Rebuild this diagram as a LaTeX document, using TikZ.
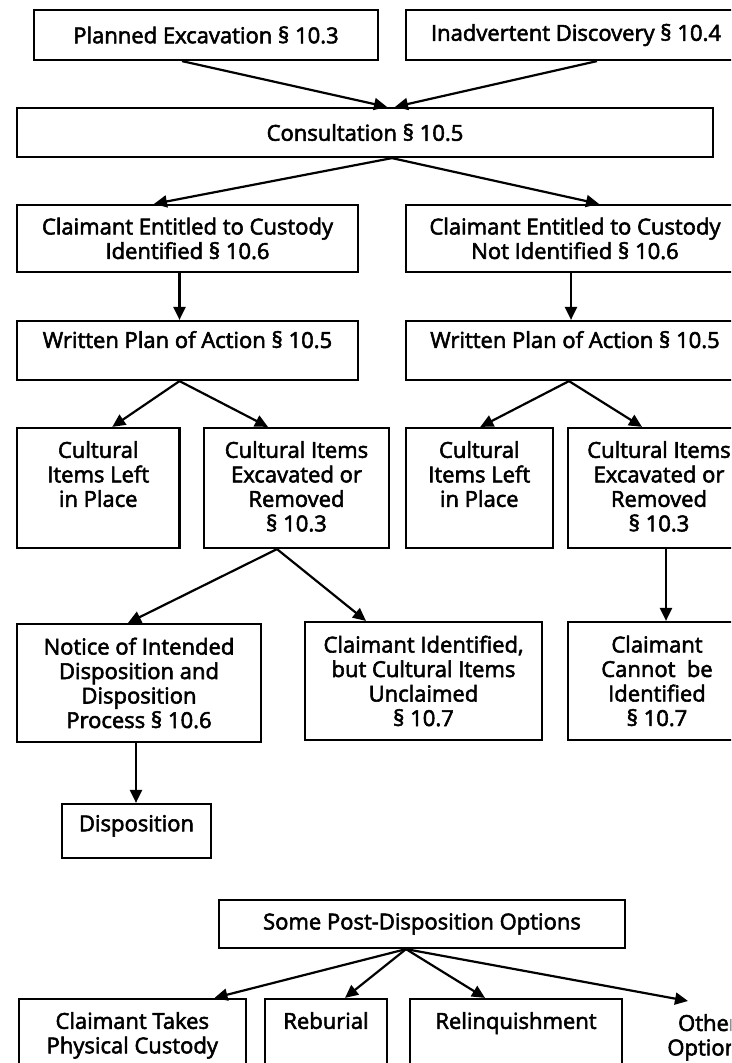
\documentclass[tikz,border=0pt]{standalone}
\usepackage{fontspec}
\setmainfont{Open Sans}
\usetikzlibrary{arrows.meta}
\newcommand\fsz{\fontsize{22}{24.5}\selectfont\special{pdf:literal direct 2 Tr 0.55 w}}
\tikzset{
  box/.style={draw, line width=2.2pt, inner sep=0pt, align=center, font=\fsz},
  lbl/.style={inner sep=0pt, align=center, font=\fsz, anchor=north},
  arr/.style={line width=2.2pt, -{Triangle[length=13pt,width=12pt]}},
}
\begin{document}
\begin{tikzpicture}[x=1pt,y=-1pt]
\useasboundingbox (0,0) rectangle (731,1063);
\clip (0,0) rectangle (731,1063);
% top row
\node[box, minimum width=344pt, minimum height=50pt] (pe) at (206,35) {Planned Excavation § 10.3};
\node[box, minimum width=340pt, minimum height=50pt] (id) at (576,35) {Inadvertent Discovery § 10.4};
\node[box, minimum width=696pt, minimum height=49pt] (cons) at (365,132.5) {Consultation § 10.5};
% claimant entitled
\node[box, minimum width=341pt, minimum height=67pt] (ce1) at (187.5,238.5) {Claimant Entitled to Custody\\Identified § 10.6};
\node[box, minimum width=338pt, minimum height=67pt] (ce2) at (575,238.5) {Claimant Entitled to Custody\\Not Identified § 10.6};
% written plans
\node[box, minimum width=341pt, minimum height=59pt] (wp1) at (187.5,350.5) {};
\node[lbl] (wp1t) at ([yshift=-11pt]wp1.north) {Written Plan of Action § 10.5};
\node[box, minimum width=338pt, minimum height=59pt] (wp2) at (575,350.5) {};
\node[lbl] (wp2t) at ([yshift=-11pt]wp2.north) {Written Plan of Action § 10.5};
% cultural items
\node[box, minimum width=162.5pt, minimum height=120pt] (cl1) at (98.25,488) {};
\node[lbl] (cl1t) at ([yshift=-14pt]cl1.north) {Cultural\\Items Left\\in Place};
\node[box, minimum width=185pt, minimum height=120pt] (cx1) at (296.5,488) {};
\node[lbl] (cx1t) at ([yshift=-14pt]cx1.north) {Cultural Items\\Excavated or\\Removed\\§ 10.3};
\node[box, minimum width=147.4pt, minimum height=120pt] (cl2) at (479.3,488) {};
\node[lbl] (cl2t) at ([yshift=-14pt]cl2.north) {Cultural\\Items Left\\in Place};
\node[box, minimum width=182pt, minimum height=120pt] (cx2) at (659,488) {};
\node[lbl] (cx2t) at ([yshift=-14pt]cx2.north) {Cultural Items\\Excavated or\\Removed\\§ 10.3};
% outcomes
\node[box, minimum width=244pt, minimum height=118pt] (no) at (139,683) {Notice of Intended\\Disposition and\\Disposition\\Process § 10.6};
\node[box, minimum width=237pt, minimum height=118pt] (ci) at (423.5,681) {Claimant Identified,\\but Cultural Items\\Unclaimed\\§ 10.7};
\node[box, minimum width=178pt, minimum height=118pt] (cc) at (657,681) {Claimant\\Cannot\ \ be\\Identified\\§ 10.7};
\node[box, minimum width=149pt, minimum height=54pt] (di) at (136.5,831) {};
\node[lbl] (dit) at ([yshift=-12pt]di.north) {Disposition};
% post-disposition
\node[box, minimum width=406pt, minimum height=48pt] (sp) at (422,924) {Some Post-Disposition Options};
\node[box, minimum width=227.4pt, minimum height=82pt] (ct) at (132.3,1040) {};
\node[lbl] (ctt) at ([yshift=-14pt]ct.north) {Claimant Takes\\Physical Custody};
\node[box, minimum width=122pt, minimum height=82pt] (rb) at (326,1040) {};
\node[lbl] (rbt) at ([yshift=-14pt]rb.north) {Reburial};
\node[box, minimum width=212pt, minimum height=82pt] (rl) at (516,1040) {};
\node[lbl] (rlt) at ([yshift=-14pt]rl.north) {Relinquishment};
\node[lbl] (ot) at (708,1014) {Other\\Options};
% connectors
\draw[arr] ([xshift=-24pt]pe.south) -- ([xshift=22pt]cons.north);
\draw[arr] ([xshift=21pt]id.south) -- ([xshift=30pt]cons.north);
\draw[arr] ([xshift=27pt]cons.south) -- ([xshift=-33.5pt]ce1.north);
\draw[arr] ([xshift=27pt]cons.south) -- ([xshift=24pt]ce2.north);
\draw[arr] ([xshift=-8pt]ce1.south) -- ([xshift=-8pt]wp1.north);
\draw[arr] ([xshift=-4pt]ce2.south) -- ([xshift=-4pt]wp2.north);
\draw[arr] ([xshift=-8pt]wp1.south) -- ([xshift=14pt]cl1.north);
\draw[arr] ([xshift=-8pt]wp1.south) -- ([xshift=-28.5pt]cx1.north);
\draw[arr] ([xshift=-6pt]wp2.south) -- ([xshift=1pt]cl2.north);
\draw[arr] ([xshift=-6pt]wp2.south) -- ([xshift=-17pt]cx2.north);
\draw[arr] ([xshift=-19.5pt]cx1.south) -- ([xshift=-11pt]no.north);
\draw[arr] ([xshift=-19.5pt]cx1.south) -- ([xshift=-57.5pt]ci.north);
\draw[arr] ([xshift=7pt]cx2.south) -- ([xshift=9pt]cc.north);
\draw[arr] ([xshift=-3pt]no.south) -- ([xshift=-0.5pt]di.north);
\draw[arr] ([xshift=-16pt]sp.south) -- ([xshift=82.2pt]ct.north);
\draw[arr] ([xshift=-16pt]sp.south) -- ([xshift=19pt]rb.north);
\draw[arr] ([xshift=-16pt]sp.south) -- ([xshift=-31pt]rl.north);
\draw[arr] ([xshift=-16pt]sp.south) -- ([xshift=-20pt,yshift=13pt]ot.north);
\end{tikzpicture}
\end{document}
